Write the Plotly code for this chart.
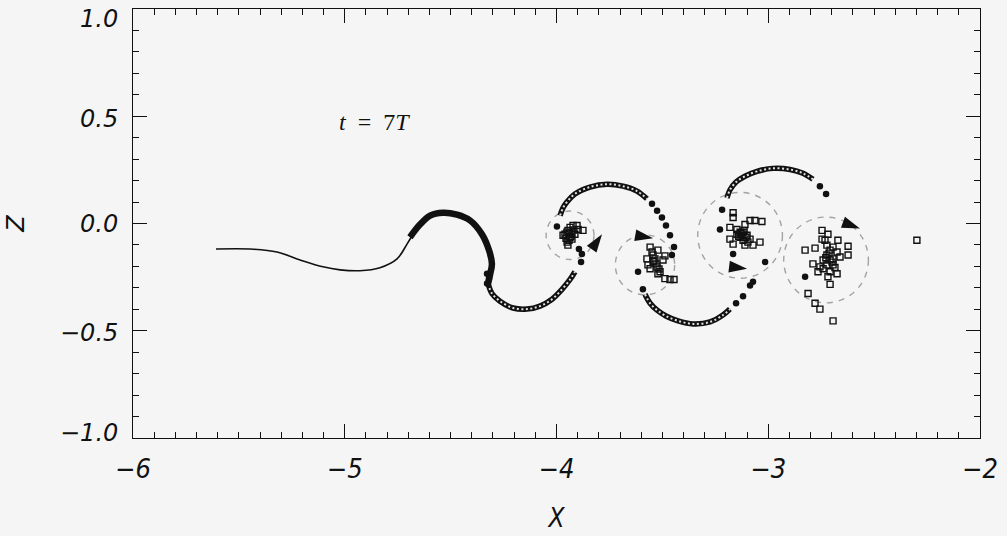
import plotly.graph_objects as go

# ---- leading thin filament (X, Z) ----
line_x = [-5.608, -5.447, -5.320, -5.211, -5.103, -5.022, -4.928, -4.834, -4.753, -4.706, -4.678]
line_z = [-0.119, -0.119, -0.133, -0.170, -0.202, -0.216, -0.220, -0.206, -0.165, -0.096, -0.050]

# ---- densely packed part of the sheet ----
thick_x = [-4.692, -4.645, -4.597, -4.536, -4.470, -4.408, -4.352, -4.319, -4.305, -4.314, -4.323]
thick_z = [-0.064, -0.005, 0.037, 0.050, 0.041, 0.014, -0.050, -0.124, -0.188, -0.239, -0.280]

# ---- particle chains (open squares packed along the sheet) ----
trough_x = [-4.323, -4.305, -4.267, -4.205, -4.139, -4.078, -4.021, -3.974, -3.936, -3.913]
trough_z = [-0.280, -0.326, -0.362, -0.394, -0.399, -0.385, -0.353, -0.307, -0.261, -0.225]

arc1_x = [-3.983, -3.969, -3.950, -3.913, -3.842, -3.761, -3.686, -3.620, -3.573]
arc1_z = [0.037, 0.073, 0.101, 0.138, 0.170, 0.183, 0.174, 0.151, 0.115]

arc2_x = [-3.582, -3.558, -3.525, -3.483, -3.426, -3.355, -3.275, -3.214, -3.181]
arc2_z = [-0.330, -0.372, -0.404, -0.431, -0.454, -0.468, -0.459, -0.427, -0.399]

arc3_x = [-3.195, -3.181, -3.152, -3.110, -3.053, -2.978, -2.897, -2.836, -2.789]
arc3_z = [0.119, 0.156, 0.193, 0.220, 0.243, 0.257, 0.252, 0.234, 0.206]

# ---- scattered particles in the vortex cores (open squares) ----
core_x = [
    # core 1
    -3.960, -3.950, -3.946, -3.936, -3.922, -3.903, -3.875, -3.927, -3.913, -3.969,
    -3.946, -3.936, -3.955, -3.927, -3.898, -3.941, -3.932, -3.951, -3.918, -3.941,
    # core 2
    -3.558, -3.521, -3.544, -3.573, -3.568, -3.544, -3.525, -3.511, -3.488, -3.464,
    -3.445, -3.497, -3.488, -3.558, -3.521, -3.535, -3.549, -3.530, -3.540, -3.516,
    # core 3
    -3.181, -3.166, -3.166, -3.110, -3.086, -3.063, -3.030, -3.148, -3.133, -3.119,
    -3.133, -3.100, -3.086, -3.110, -3.166, -3.039, -3.072, -3.148, -3.181, -3.114,
    -3.096, -3.124, -3.128, -3.105, -3.140, -3.119,
    # core 4
    -2.746, -2.718, -2.746, -2.732, -2.671, -2.623, -2.826, -2.779, -2.723, -2.708,
    -2.694, -2.675, -2.661, -2.623, -2.723, -2.708, -2.741, -2.789, -2.756, -2.723,
    -2.694, -2.675, -2.708, -2.765, -2.708, -2.812, -2.779, -2.756, -2.694, -2.718,
    -2.694, -2.741, -2.298, -2.713, -2.699, -2.728, -2.685,
]
core_z = [
    -0.050, -0.087, -0.032, -0.018, -0.009, -0.009, -0.032, -0.073, -0.050, -0.055,
    -0.101, -0.064, -0.069, -0.041, -0.028, -0.046, -0.060, -0.040, -0.030, -0.078,
    -0.110, -0.124, -0.147, -0.165, -0.193, -0.179, -0.202, -0.225, -0.257, -0.261,
    -0.261, -0.170, -0.151, -0.211, -0.234, -0.165, -0.133, -0.188, -0.175, -0.212,
    -0.018, 0.050, 0.028, -0.005, 0.014, 0.014, 0.009, -0.050, -0.064, -0.078,
    -0.041, -0.055, -0.073, -0.101, -0.096, -0.087, -0.101, -0.028, -0.073, -0.032,
    -0.087, -0.055, -0.046, -0.064, -0.060, -0.041,
    -0.032, -0.050, -0.073, -0.078, -0.078, -0.106, -0.124, -0.115, -0.101, -0.124,
    -0.110, -0.133, -0.156, -0.147, -0.147, -0.170, -0.170, -0.188, -0.202, -0.193,
    -0.193, -0.234, -0.225, -0.225, -0.284, -0.326, -0.372, -0.399, -0.454, -0.248,
    -0.165, -0.211, -0.078, -0.138, -0.180, -0.160, -0.205,
]

# ---- heavier particles (filled) ----
dot_x = [-4.328, -4.319, -4.328, -3.998, -3.894, -3.880, -3.884,
         -3.549, -3.525, -3.502, -3.483, -3.464, -3.445, -3.455, -3.615, -3.592,
         -3.152, -3.119, -3.086, -3.072, -3.228, -3.218, -3.166, -3.015,
         -2.756, -2.727, -2.826]
dot_z = [-0.234, -0.257, -0.280, -0.014, -0.119, -0.142, -0.179,
         0.092, 0.060, 0.028, -0.009, -0.055, -0.110, -0.147, -0.225, -0.307,
         -0.372, -0.339, -0.289, -0.271, -0.028, 0.064, -0.142, -0.179,
         0.174, 0.138, -0.248]

# ---- direction-of-rotation arrow heads: tip position and heading ----
arrow_x = [-3.785, -3.544, -3.100, -2.567]
arrow_z = [-0.050, -0.069, -0.211, -0.023]
arrow_angle = [35, 100, 97, 110]

# ---- vortex outlines: centre and radius ----
vortex_x = [-3.936, -3.582, -3.133, -2.727]
vortex_z = [-0.055, -0.193, -0.055, -0.170]
vortex_r = [0.113, 0.140, 0.200, 0.200]

x_ticks = [-6, -5, -4, -3, -2]
x_tick_text = ["\u22126", "\u22125", "\u22124", "\u22123", "\u22122"]
y_ticks = [-1.0, -0.5, 0.0, 0.5, 1.0]
y_tick_text = ["\u22121.0", "\u22120.5", "0.0", "0.5", "1.0"]
y_label_shift = [5, -2, 0, -3, -10]

BG = "#f5f5f5"
INK = "#111111"

fig = go.Figure()

# thin filament
fig.add_trace(go.Scatter(x=line_x, y=line_z, mode="lines",
                         line=dict(color=INK, width=1.6, shape="spline"),
                         hoverinfo="skip", showlegend=False))
# densely packed section
fig.add_trace(go.Scatter(x=thick_x, y=thick_z, mode="lines",
                         line=dict(color=INK, width=6.5, shape="spline"),
                         hoverinfo="skip", showlegend=False))

# particle chains: dark band with light dashed core gives the open-square look
chain_x, chain_z = [], []
for cx, cz in ((trough_x, trough_z), (arc1_x, arc1_z), (arc2_x, arc2_z), (arc3_x, arc3_z)):
    chain_x += cx + [None]
    chain_z += cz + [None]
fig.add_trace(go.Scatter(x=chain_x, y=chain_z, mode="lines",
                         line=dict(color=INK, width=5.5, shape="spline"),
                         hoverinfo="skip", showlegend=False))
fig.add_trace(go.Scatter(x=chain_x, y=chain_z, mode="lines",
                         line=dict(color="#e2e2e2", width=2, shape="spline", dash="2px,2.5px"),
                         hoverinfo="skip", showlegend=False))

# scattered open-square particles
fig.add_trace(go.Scatter(x=core_x, y=core_z, mode="markers",
                         marker=dict(symbol="square-open", size=6, color=INK,
                                     line=dict(width=1.4, color=INK)),
                         hoverinfo="skip", showlegend=False))
# filled particles
fig.add_trace(go.Scatter(x=dot_x, y=dot_z, mode="markers",
                         marker=dict(symbol="circle", size=6.5, color=INK),
                         hoverinfo="skip", showlegend=False))
# arrow heads
fig.add_trace(go.Scatter(x=arrow_x, y=arrow_z, mode="markers",
                         marker=dict(symbol="arrow", size=19, color=INK,
                                     angle=arrow_angle, line=dict(width=0)),
                         hoverinfo="skip", showlegend=False))

shapes = []
for cx, cz, r in zip(vortex_x, vortex_z, vortex_r):
    shapes.append(dict(type="circle", xref="x", yref="y", layer="below",
                       x0=cx - r, x1=cx + r, y0=cz - r, y1=cz + r,
                       line=dict(color="#a3a3a3", width=1.4, dash="6px,6px")))

annotations = []
for v, txt, sh in zip(y_ticks, y_tick_text, y_label_shift):
    annotations.append(dict(xref="paper", yref="y", x=0, y=v, text=txt,
                            xanchor="right", yanchor="middle", xshift=-13, yshift=sh,
                            showarrow=False,
                            font=dict(family="DejaVu Sans", size=24, color=INK, style="italic")))
annotations.append(dict(xref="x", yref="y", x=-5.037, y=0.472, text="<i>t</i>  =  7<i>T</i>",
                        xanchor="left", yanchor="middle", showarrow=False,
                        font=dict(family="Liberation Serif", size=24, color=INK)))

axis_common = dict(showline=True, linecolor=INK, linewidth=1.3, mirror="allticks",
                   ticks="inside", ticklen=14, tickwidth=1.2, tickcolor=INK,
                   showgrid=False, zeroline=False)

fig.update_layout(
    width=1007, height=536,
    margin=dict(l=133, r=27, t=8, b=92),
    paper_bgcolor=BG, plot_bgcolor=BG,
    shapes=shapes, annotations=annotations,
    xaxis=dict(range=[-6, -2], tickvals=x_ticks, ticktext=x_tick_text,
               minor=dict(dtick=0.1, tick0=-6, ticks="inside", ticklen=6, tickwidth=1, tickcolor=INK),
               tickfont=dict(family="DejaVu Sans Condensed, Liberation Sans Narrow, Liberation Sans",
                             size=27, color=INK, style="italic"),
               ticklabelstandoff=6,
               title=dict(text="X", standoff=26,
                          font=dict(family="DejaVu Sans Condensed, Liberation Sans Narrow, Liberation Sans",
                                    size=26, color=INK, style="italic")),
               **axis_common),
    yaxis=dict(range=[-1, 1], tickvals=y_ticks, showticklabels=False,
               minor=dict(dtick=0.1, tick0=-1, ticks="inside", ticklen=6, tickwidth=1, tickcolor=INK),
               title=dict(text="Z", standoff=100,
                          font=dict(family="DejaVu Sans", size=24, color=INK, style="italic")),
               **axis_common),
)

fig.write_html("out.html")
